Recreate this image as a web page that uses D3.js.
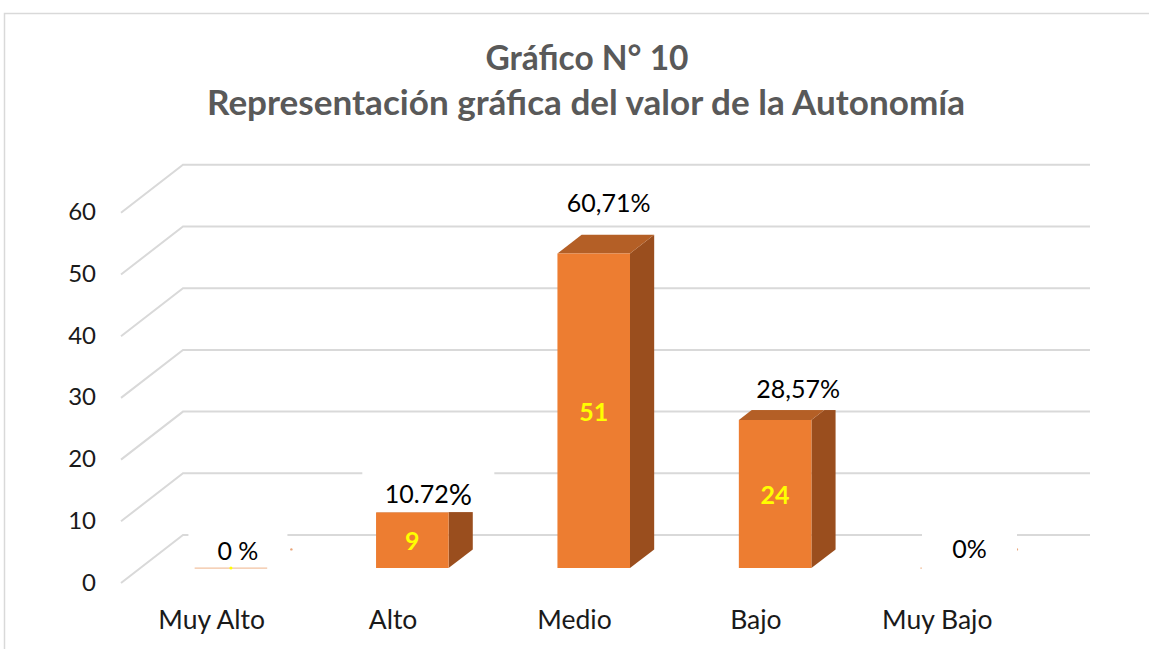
<!DOCTYPE html>
<html>
<head>
<meta charset="utf-8">
<script src="https://cdn.jsdelivr.net/npm/d3@7"></script>
<style>
  html, body { margin: 0; padding: 0; background: #fff; }
  svg { display: block; }
  text { font-family: Lato, "Open Sans", sans-serif; }
</style>
</head>
<body>
<svg id="chart" width="1149" height="649"></svg>
<script>
// ---- data ----
const categories = ["Muy Alto", "Alto", "Medio", "Bajo", "Muy Bajo"];
const values = [0, 9, 51, 24, 0];
const pctLabels = ["0 %", "10.72%", "60,71%", "28,57%", "0%"];
const yTicks = [0, 10, 20, 30, 40, 50, 60];
const titleLines = ["Gráfico N° 10", "Representación gráfica del valor de la Autonomía"];

// ---- layout / style (not data) ----
const W = 1149, H = 649;
const floorFrontY = 583;          // y of value 0 on the front plane
const depthVec = [62, -48];       // full depth offset (front -> back)
const barDepth = [0.31, 0.70];    // bar occupies this fraction of the depth
const pctOffsets = [               // label centre offset from bar's front-top (px), manual as in source
  {dx: 7, dy: -18}, {dx: 16, dy: -20}, {dx: 15, dy: -51}, {dx: 23, dy: -32}, {dx: 13, dy: -20}
];
const pctBoxes = [                 // white background boxes of the % labels
  {w: 99, h: 31, oy: -18}, {w: 132, h: 46.5, oy: -27}, {w: 100, h: 38, oy: -19},
  {w: 104, h: 44, oy: -22}, {w: 95, h: 41, oy: -17}
];
const colFront = "#ED7D31", colTop = "#B45F26", colSide = "#9A4E1E";
const gridCol = "#D9D9D9";

const svg = d3.select("#chart");

// frame
svg.append("path")
  .attr("d", `M4.5,${H + 2} L4.5,13.5 L${W + 2},13.5`)
  .attr("fill", "none").attr("stroke", "#D9D9D9").attr("stroke-width", 1.5);

// scales
const x = d3.scaleBand().domain(categories).range([121, 1028]).paddingInner(0.6).paddingOuter(0.3);
const y = d3.scaleLinear().domain([0, 60]).range([floorFrontY, floorFrontY - 370.2]);
// project (front-plane x, value, depth fraction) -> screen
const P = (px, v, d) => [px + depthVec[0] * d, y(v) + depthVec[1] * d];
const pts = arr => arr.map(p => p.join(",")).join(" ");

// title
svg.append("text").attr("x", 587).attr("y", 70).attr("text-anchor", "middle")
  .attr("fill", "#595959").attr("font-weight", "bold").attr("font-size", 34)
  .attr("textLength", 203).attr("lengthAdjust", "spacingAndGlyphs").text(titleLines[0]);
svg.append("text").attr("x", 586).attr("y", 115).attr("text-anchor", "middle")
  .attr("fill", "#595959").attr("font-weight", "bold").attr("font-size", 35)
  .attr("textLength", 758).attr("lengthAdjust", "spacingAndGlyphs").text(titleLines[1]);

// gridlines: side wall diagonal + back wall
const grid = svg.append("g").attr("stroke", gridCol).attr("stroke-width", 2).attr("fill", "none");
const [x0, x1] = x.range();
yTicks.forEach(v => {
  grid.append("polyline").attr("points", pts([P(x0, v, 0), P(x0, v, 1), P(x1, v, 1)]));
});

// y tick labels
svg.append("g").selectAll("text").data(yTicks).join("text")
  .attr("x", 96).attr("y", v => y(v) - 2)
  .attr("text-anchor", "end").attr("dominant-baseline", "central")
  .attr("font-size", 24).attr("fill", "#1a1a1a").text(v => v);

// bars
const bars = svg.append("g");
categories.forEach((c, i) => {
  const v = values[i];
  const l = x(c), r = x(c) + x.bandwidth();
  const [df, db] = barDepth;
  const g = bars.append("g");
  if (v > 0) {
    g.append("polygon").attr("fill", colSide)
      .attr("points", pts([P(r, 0, df), P(r, 0, db), P(r, v, db), P(r, v, df)]));
    g.append("polygon").attr("fill", colTop)
      .attr("points", pts([P(l, v, df), P(r, v, df), P(r, v, db), P(l, v, db)]));
    g.append("polygon").attr("fill", colFront)
      .attr("points", pts([P(l, 0, df), P(r, 0, df), P(r, v, df), P(l, v, df)]));
    const [cx] = P((l + r) / 2, 0, df);
    const cy = (P(l, 0, df)[1] + P(l, v, df)[1]) / 2;
    g.append("text").attr("x", cx).attr("y", cy)
      .attr("text-anchor", "middle").attr("dominant-baseline", "central")
      .attr("font-size", 25).attr("font-weight", "bold").attr("fill", "#FFFF00").text(v);
  } else {
    // zero-height bar: only its front edge shows
    g.append("line").attr("stroke", "#F2C2A0").attr("stroke-width", 1.2)
      .attr("x1", P(l, 0, df)[0]).attr("y1", P(l, 0, df)[1])
      .attr("x2", P(r, 0, df)[0]).attr("y2", P(r, 0, df)[1]);
    g.append("circle").attr("fill", "#FFFF00").attr("r", 1.5)
      .attr("cx", P((l + r) / 2, 0, df)[0]).attr("cy", P((l + r) / 2, 0, df)[1]);
    g.append("circle").attr("fill", "#E9A57A").attr("r", 1.2)
      .attr("cx", P(r, 0, db)[0]).attr("cy", P(r, 0, db)[1]);
  }
});

// percentage labels with white boxes
const pl = svg.append("g");
categories.forEach((c, i) => {
  const [fx, fy] = P(x(c) + x.bandwidth() / 2, values[i], barDepth[0]);
  const cx = fx + pctOffsets[i].dx, cy = fy + pctOffsets[i].dy;
  const b = pctBoxes[i];
  pl.append("rect").attr("x", cx - b.w / 2).attr("y", cy + b.oy)
    .attr("width", b.w).attr("height", b.h).attr("fill", "#fff");
  const t = pl.append("text").attr("x", cx).attr("y", cy)
    .attr("text-anchor", "middle").attr("dominant-baseline", "central")
    .attr("font-size", 25).attr("fill", "#000");
  const s = pctLabels[i];
  if (i === 1) {
    t.append("tspan").text(s.slice(0, -1));
    t.append("tspan").attr("font-size", 29).text("%");
  } else {
    t.text(s);
  }
});

// category labels
svg.append("g").selectAll("text").data(categories).join("text")
  .attr("x", d => x(d) + x.bandwidth() / 2).attr("y", 619)
  .attr("text-anchor", "middle").attr("dominant-baseline", "central")
  .attr("font-size", 26.5).attr("fill", "#1a1a1a").text(d => d);
</script>
</body>
</html>
